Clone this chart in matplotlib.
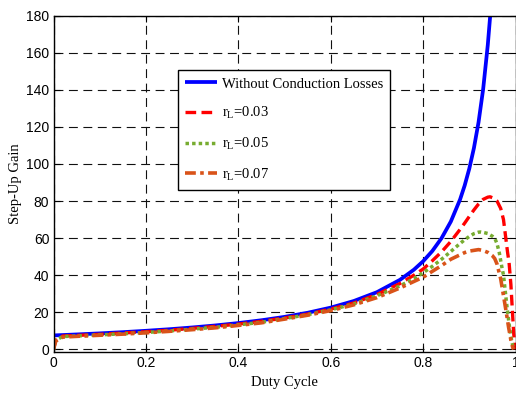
import matplotlib
matplotlib.use("Agg")
import matplotlib.pyplot as plt

# ---- data ----
d_ideal = [0, 0.05, 0.1, 0.15, 0.2, 0.25, 0.3, 0.35, 0.4, 0.45, 0.5, 0.55, 0.6, 0.65,
           0.7, 0.75, 0.78, 0.8, 0.82, 0.84, 0.86, 0.88, 0.89, 0.9, 0.91, 0.92, 0.93,
           0.94, 0.945, 0.95]
g_ideal = [7.5, 8.03, 8.61, 9.26, 10.0, 10.83, 11.79, 12.88, 14.17, 15.68, 17.5, 19.72,
           22.5, 26.07, 30.83, 37.5, 42.95, 47.5, 53.06, 60.0, 68.93, 80.83, 88.41, 97.5,
           108.6, 122.5, 140.4, 164.2, 179.3, 197.5]

d_r03 = [0, 0.005, 0.02, 0.05, 0.1, 0.15, 0.2, 0.25, 0.3, 0.35, 0.4, 0.45, 0.5, 0.55,
         0.6, 0.65, 0.7, 0.75, 0.78, 0.8, 0.82, 0.84, 0.86, 0.88, 0.89, 0.9, 0.91, 0.92,
         0.93, 0.94, 0.945, 0.95, 0.96, 0.968, 0.974, 0.979, 0.983, 0.986, 0.99, 0.993,
         0.996, 0.999]
g_r03 = [0, 5.0, 7.2, 7.5, 8.1, 8.8, 9.5, 10.3, 11.3, 12.4, 13.6, 15.1, 16.9, 19.0,
         21.7, 25.0, 29.6, 35.5, 40.0, 43.3, 47.8, 52.6, 58.2, 64.7, 68.1, 71.7, 75.2, 78.4,
         80.9, 82.1, 82.3, 81.8, 80.0, 76.0, 70.0, 60.0, 52.0, 47.0, 35.0, 22.0,
         9.0, 0]

d_r05 = [0, 0.005, 0.02, 0.05, 0.1, 0.15, 0.2, 0.25, 0.3, 0.35, 0.4, 0.45, 0.5, 0.55,
         0.6, 0.65, 0.7, 0.75, 0.78, 0.8, 0.82, 0.84, 0.86, 0.88, 0.89, 0.9, 0.91, 0.92,
         0.925, 0.93, 0.94, 0.95, 0.955, 0.96, 0.965, 0.97, 0.974, 0.978, 0.982, 0.986,
         0.99, 0.994, 0.997]
g_r05 = [0, 5.0, 6.9, 7.2, 7.8, 8.4, 9.1, 9.9, 10.9, 11.9, 13.2, 14.6, 16.6, 18.7,
         21.3, 24.5, 28.9, 34.2, 38.2, 41.3, 44.8, 48.6, 52.8, 57.1, 59.1, 60.9, 62.4, 63.2,
         63.3, 63.1, 62.5, 61.0, 60.0, 57.0, 52.0, 45.0, 40.0, 31.0, 22.0, 14.0,
         7.0, 2.0, 0]

d_r07 = [0, 0.005, 0.02, 0.05, 0.1, 0.15, 0.2, 0.25, 0.3, 0.35, 0.4, 0.45, 0.5, 0.55,
         0.6, 0.65, 0.7, 0.75, 0.78, 0.8, 0.82, 0.84, 0.86, 0.88, 0.89, 0.9, 0.91, 0.92,
         0.93, 0.94, 0.95, 0.955, 0.96, 0.965, 0.968, 0.972, 0.976, 0.98, 0.985, 0.99,
         0.994, 0.996]
g_r07 = [0, 4.5, 6.6, 7.0, 7.6, 8.2, 8.9, 9.7, 10.6, 11.6, 12.9, 14.3, 16.3, 18.4,
         20.9, 24.0, 27.9, 33.1, 36.6, 38.9, 42.1, 45.2, 48.6, 51.0, 52.2, 53.0, 53.4, 53.8,
         53.3, 52.3, 50.5, 49.0, 46.0, 41.0, 38.0, 32.0, 26.0, 20.0, 12.0, 5.0,
         1.0, 0]

labels = ["Without Conduction Losses", "r$_\\mathregular{L}$=0.03",
          "r$_\\mathregular{L}$=0.05", "r$_\\mathregular{L}$=0.07"]
x_ticks = [0, 0.2, 0.4, 0.6, 0.8, 1]
x_ticklabels = ["0", "0.2", "0.4", "0.6", "0.8", "1"]
y_ticks = [0, 20, 40, 60, 80, 100, 120, 140, 160, 180]

# ---- style ----
plt.rcParams["mathtext.fontset"] = "custom"
plt.rcParams["mathtext.rm"] = "Liberation Serif"
plt.rcParams["mathtext.it"] = "Liberation Serif:italic"

fig = plt.figure(figsize=(5.16, 3.97), dpi=100)
ax = fig.add_axes([53.5 / 516, (397 - 352.3) / 397, 462 / 516, 336.6 / 397])

ax.plot(d_ideal, g_ideal, color="#0000FF", lw=2.7, solid_capstyle="butt", label=labels[0])
ax.plot(d_r03, g_r03, color="#FF0000", lw=2.4, linestyle=(0, (3.2, 1.6)), label=labels[1])
ax.plot(d_r05, g_r05, color="#77AC30", lw=2.5, linestyle=(0, (1.0, 0.9)), label=labels[2])
ax.plot(d_r07, g_r07, color="#D95319", lw=2.6, linestyle=(0, (3.0, 1.2, 1.0, 1.2)), label=labels[3])

ax.set_xlim(0, 1)
ax.set_ylim(-1.6, 180)
ax.set_xticks(x_ticks)
ax.set_xticklabels(x_ticklabels)
ax.set_yticks(y_ticks)

for lab in ax.get_xticklabels() + ax.get_yticklabels():
    lab.set_fontfamily("Liberation Sans")
    lab.set_fontsize(10)

ax.tick_params(direction="in", length=4, width=0.8, top=True, right=True, pad=3)
ax.grid(True, color="#111111", lw=0.8, linestyle=(0, (8, 5)))
for s in ax.spines.values():
    s.set_linewidth(1.0)
    s.set_color("black")

ax.set_xlabel("Duty Cycle", fontfamily="Liberation Serif", fontsize=10.5, labelpad=4)
ax.set_ylabel("Step-Up Gain", fontfamily="Liberation Serif", fontsize=10.5, labelpad=3)

leg = ax.legend(loc="upper left", bbox_to_anchor=((178 - 53.5) / 462, (352.3 - 70) / 336.6),
                borderaxespad=0, fancybox=False, framealpha=1, edgecolor="black",
                prop={"family": "Liberation Serif", "size": 10.5},
                handlelength=2.2, handletextpad=0.3, labelspacing=1.0, borderpad=0.5)
leg.get_frame().set_linewidth(1.0)

fig.savefig("out.png", dpi=100)
